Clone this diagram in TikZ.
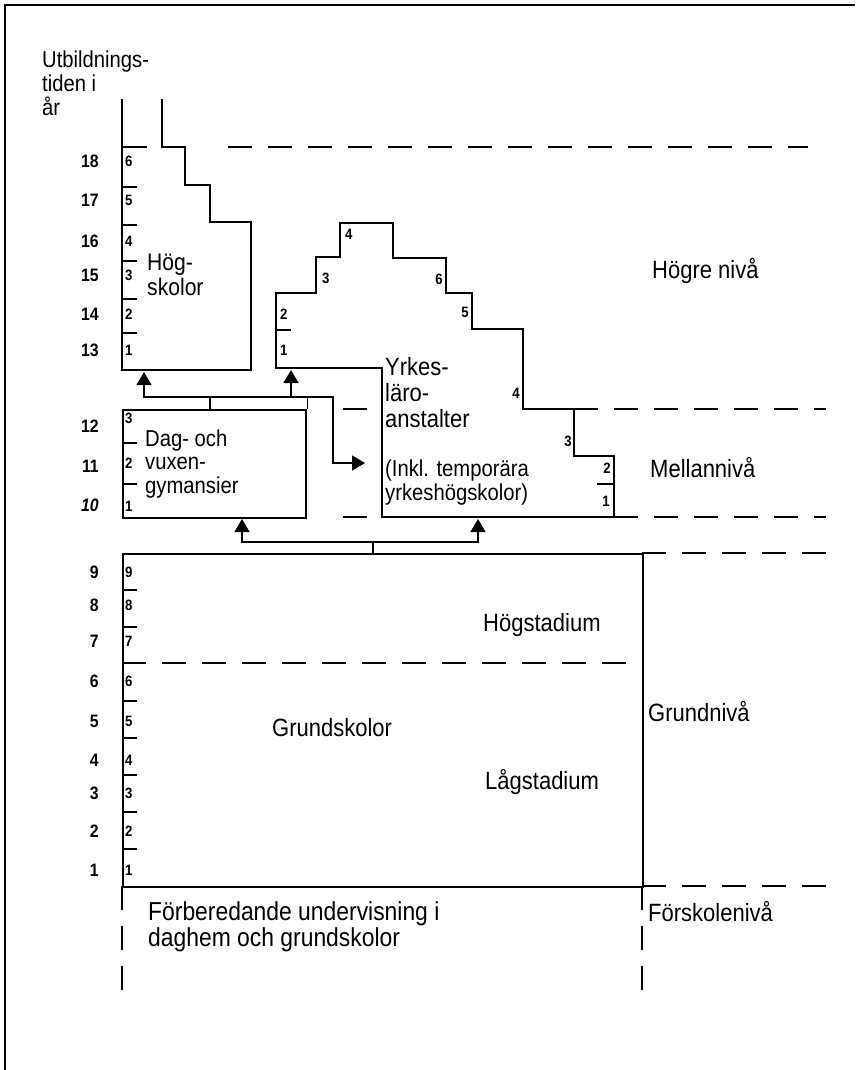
\documentclass[tikz,border=0pt]{standalone}
\usepackage{fontspec}
\setmainfont{Liberation Sans}[FakeStretch=0.88]
\usepackage{tikz}
\usetikzlibrary{positioning, arrows.meta}

\begin{document}
\begin{tikzpicture}[x=1pt, y=-1pt,
    box/.style={line width=2.4pt},
    tickline/.style={line width=1.6pt},
    level/.style={line width=1.6pt, dash pattern=on 24pt off 16pt},
    conn/.style={line width=1.3pt},
    uparrow/.style={conn, -{Triangle[width=15pt, length=13pt]}},
    txt/.style={font=\fontsize{25}{26}\selectfont, inner sep=0pt, anchor=base west, align=left},
    year/.style={font=\bfseries\fontsize{18}{18}\selectfont, inner sep=0pt, anchor=east},
    cell/.style={font=\bfseries\fontsize{15}{15}\selectfont, inner sep=0pt, anchor=west}]
    \useasboundingbox (0,0) rectangle (855,1070);
    \draw[line width=1.4pt] (855,5) -- (5,5) -- (5,1070);

    % title (base = last line)
    \node[txt, font=\fontsize{23}{24}\selectfont] (title) at (42,116) {Utbildnings-\\tiden i\\år};

    % Högskolor
    \draw[box] (122,99) -- (122,370) -- (251,370) -- (251,222) -- (210,222) -- (210,185) -- (185,185) -- (185,147) -- (162,147) -- (162,99);
    \coordinate (HSb) at (144,372);
    \node[txt, font=\fontsize{24}{25}\selectfont] (HS) at (147,295) {Hög-\\skolor};

    % Yrkesläroanstalter
    \draw[box] (382,517) -- (382,368) -- (276,368) -- (276,293) -- (316,293) -- (316,257) -- (340,257) -- (340,223) -- (393,223) -- (393,258) -- (446,258) -- (446,293) -- (472,293) -- (472,329) -- (523,329) -- (523,409) -- (574,409) -- (574,456) -- (614,456) -- (614,517) -- cycle;
    \coordinate (YLb) at (291,370);
    \coordinate (YLin) at (365,463);
    \coordinate (YLbot) at (478,519);
    \node[txt] (YL) at (385,427) {Yrkes-\\läro-\\anstalter};
    \node[txt, font=\fontsize{23}{24}\selectfont] (YLnote) at (385,500) {(Inkl. temporära\\yrkeshögskolor)};

    % Dag- och vuxengymnasier
    \node[draw, box, rectangle, minimum width=183pt, minimum height=108pt, anchor=north west, inner sep=0pt] (DG) at (122,409) {};
    \coordinate (DGb) at (242,519);
    \node[txt, font=\fontsize{23}{23.5}\selectfont] (DGtext) at (145,493) {Dag- och\\vuxen-\\gymansier};

    % Grundskolor
    \node[draw, box, rectangle, minimum width=520pt, minimum height=333pt, anchor=north west, inner sep=0pt] (GS) at (122,553) {};
    \draw[level] (122,663) -- (642,663);
    \node[txt] (GStext) at (272,736) {Grundskolor};
    \node[txt] (hog) at (483,631) {Högstadium};
    \node[txt] (lag) at (485,789) {Lågstadium};

    % nivåer
    \node[txt] (niva1) at (652,278) {Högre nivå};
    \node[txt] (niva2) at (650,477) {Mellannivå};
    \node[txt] (niva3) at (648,721) {Grundnivå};
    \node[txt] (niva4) at (648,921) {Förskolenivå};
    \node[txt, font=\fontsize{26}{26}\selectfont] (pre) at (148,946) {Förberedande undervisning i\\daghem och grundskolor};

    \draw[level] (228,147) -- (808,147);
    \draw[level] (343,409) -- (382,409);
    \draw[level] (574,409) -- (826,409);
    \draw[level] (343,517) -- (382,517);
    \draw[level] (614,517) -- (826,517);
    \draw[level] (642,553) -- (827,553);
    \draw[level] (642,886) -- (827,886);
    \draw[level] (122,886) -- (122,1002);
    \draw[level] (642,886) -- (642,1002);

    % år
    \foreach \y/\n in {161/18, 200/17, 241/16, 275/15, 314/14, 350/13, 426/12, 466/11, 572/9, 605/8, 641/7, 681/6, 721/5, 760/4, 793/3, 831/2, 870/1}
        \node[year] (yr\n) at (99,\y) {\n};
    \node[year, font=\bfseries\itshape\fontsize{18}{18}\selectfont] (yr10) at (99,505) {10};

    \foreach \y/\n in {161/6, 200/5, 241/4, 275/3, 314/2, 350/1}
        \node[cell] (hs\n) at (125,\y) {\n};
    \foreach \y/\n in {418/3, 463/2, 506/1}
        \node[cell] (dg\n) at (125,\y) {\n};
    \foreach \y/\n in {572/9, 605/8, 641/7, 681/6, 721/5, 760/4, 793/3, 831/2, 870/1}
        \node[cell] (gs\n) at (125,\y) {\n};
    \draw[tickline] (122,147) -- (147,147);
    \foreach \y in {187, 225, 261, 299, 333, 443, 484, 590, 627, 663, 701, 738, 775, 812, 849}
        \draw[tickline] (122,\y) -- ++(15,0);

    \node[cell] (yl2) at (280,314) {2};
    \node[cell] (yl1) at (280,350) {1};
    \node[cell] (yl3) at (322,278) {3};
    \node[cell] (yl4) at (345,234) {4};
    \node[cell, anchor=east] (yl6) at (443,279) {6};
    \node[cell, anchor=east] (yl5) at (469,312) {5};
    \node[cell, anchor=east] (yl4b) at (520,393) {4};
    \node[cell, anchor=east] (yl3b) at (572,441) {3};
    \node[cell, anchor=east] (yl2b) at (611,468) {2};
    \node[cell, anchor=east] (yl1b) at (610,501) {1};
    \draw[tickline] (276,330) -- ++(15,0);
    \draw[tickline] (597,484) -- (614,484);

    % pilar
    \coordinate (hub1) at (210,397);
    \draw[conn] (hub1) -- (hub1 |- DG.north);
    \draw[conn] (DG.north east) -- (DG.north east |- hub1);
    \draw[uparrow] (hub1) -| (HSb);
    \draw[uparrow] (hub1) -| (YLb);
    \draw[uparrow] (hub1) -| ([xshift=-32pt]YLin) -- (YLin);
    \coordinate (hub2) at (373,542);
    \draw[conn] (hub2) -- (hub2 |- GS.north);
    \draw[uparrow] (hub2) -| (DGb);
    \draw[uparrow] (hub2) -| (YLbot);
\end{tikzpicture}
\end{document}
